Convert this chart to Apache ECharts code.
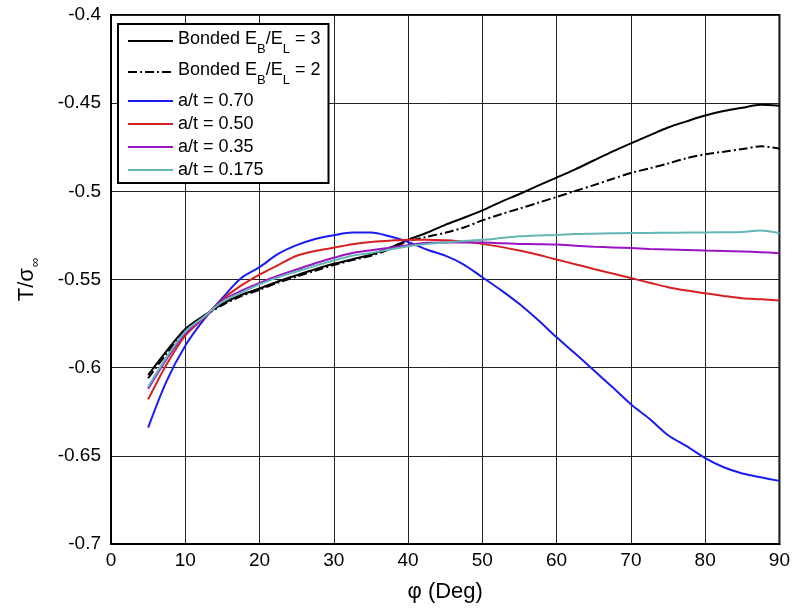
<!DOCTYPE html>
<html>
<head>
<meta charset="utf-8">
<script src="https://cdn.jsdelivr.net/npm/echarts@6/dist/echarts.min.js"></script>
<style>
  html, body { margin: 0; padding: 0; background: #fff; }
  #chart { width: 793px; height: 608px; }
</style>
</head>
<body>
<div id="chart"></div>
<script>
// phi in degrees
const phi = [5, 7.5, 10, 12.5, 15, 17.5, 20, 22.5, 25, 27.5, 30, 32.5, 35, 37.5, 40, 42.5, 45, 47.5,
  50, 52.5, 55, 57.5, 60, 62.5, 65, 67.5, 70, 72.5, 75, 77.5, 80, 82.5, 85, 87.5, 90];

const bonded3 = [-0.6042, -0.5905, -0.578, -0.5705, -0.5638, -0.5588, -0.5551, -0.5511, -0.5476, -0.5442,
  -0.5411, -0.5385, -0.536, -0.532, -0.5275, -0.5235, -0.519, -0.515, -0.5108, -0.506, -0.5015, -0.4968,
  -0.4922, -0.4875, -0.4825, -0.4775, -0.4728, -0.4683, -0.4638, -0.4603, -0.457, -0.4545, -0.4526, -0.4509, -0.4515];
const bonded2 = [-0.606, -0.592, -0.579, -0.571, -0.5645, -0.5595, -0.5558, -0.5518, -0.5484, -0.545,
  -0.5418, -0.539, -0.5365, -0.5328, -0.5283, -0.5258, -0.5235, -0.5205, -0.5165, -0.513, -0.5098, -0.5065,
  -0.5032, -0.4998, -0.4965, -0.493, -0.4896, -0.487, -0.4842, -0.4812, -0.479, -0.4775, -0.476, -0.4745, -0.4758];
const at070 = [-0.634, -0.6075, -0.5876, -0.5728, -0.5605, -0.5493, -0.543, -0.5355, -0.5305, -0.527,
  -0.5249, -0.5234, -0.5234, -0.5255, -0.5287, -0.533, -0.5365, -0.5415, -0.5487, -0.556, -0.5639, -0.573,
  -0.5828, -0.592, -0.6015, -0.611, -0.6207, -0.629, -0.6383, -0.6445, -0.6513, -0.6565, -0.66, -0.6622, -0.6642];
const at050 = [-0.618, -0.598, -0.5818, -0.5718, -0.5613, -0.5535, -0.5472, -0.5418, -0.5365, -0.5338,
  -0.532, -0.53, -0.5287, -0.528, -0.5274, -0.5274, -0.5278, -0.5285, -0.5298, -0.5315, -0.5336, -0.536,
  -0.5387, -0.5413, -0.544, -0.5466, -0.5492, -0.5518, -0.5544, -0.5563, -0.5578, -0.5593, -0.5606, -0.5612, -0.5619];
const at035 = [-0.612, -0.595, -0.5805, -0.5715, -0.5619, -0.5565, -0.5519, -0.5478, -0.5443, -0.5408,
  -0.5377, -0.535, -0.5334, -0.532, -0.5306, -0.5292, -0.529, -0.529, -0.529, -0.5294, -0.5298, -0.53,
  -0.5302, -0.5308, -0.5314, -0.5318, -0.5322, -0.5327, -0.533, -0.5333, -0.5336, -0.5338, -0.5341, -0.5345, -0.5351];
const at0175 = [-0.6108, -0.594, -0.5795, -0.5712, -0.5626, -0.5575, -0.5528, -0.5488, -0.5455, -0.5422,
  -0.5392, -0.5365, -0.535, -0.533, -0.5311, -0.5298, -0.529, -0.5282, -0.5275, -0.5265, -0.5255, -0.525,
  -0.5247, -0.5242, -0.524, -0.5238, -0.5237, -0.5236, -0.5235, -0.5234, -0.5233, -0.5232, -0.523, -0.5222, -0.5237];

const names = ['Bonded EB/EL = 3', 'Bonded EB/EL = 2', 'a/t = 0.70', 'a/t = 0.50', 'a/t = 0.35', 'a/t = 0.175'];
const colors = ['#000000', '#000000', '#1c1cf2', '#d42020', '#9a14c4', '#62b6b6'];
const values = [bonded3, bonded2, at070, at050, at035, at0175];

const font = 'Liberation Sans, Arial, sans-serif';

const chart = echarts.init(document.getElementById('chart'));

const series = values.map((v, i) => ({
  name: names[i],
  type: 'line',
  data: phi.map((p, j) => [p, v[j]]),
  symbol: 'none',
  smooth: 0.3,
  lineStyle: {
    color: colors[i],
    width: 2,
    type: i === 1 ? [9, 3, 2, 3] : 'solid'
  },
  itemStyle: { color: colors[i] }
}));

chart.setOption({
  animation: false,
  backgroundColor: '#fff',
  grid: {
    left: 111,
    right: 13,
    top: 15,
    bottom: 63,
    show: true,
    borderColor: '#000',
    borderWidth: 2
  },
  legend: {
    orient: 'vertical',
    left: 118,
    top: 24,
    padding: [6, 8, 4, 9],
    itemGap: 5,
    itemWidth: 45,
    itemHeight: 10,
    itemStyle: { opacity: 0 },
    backgroundColor: '#fff',
    borderColor: '#000',
    borderWidth: 2,
    borderRadius: 0,
    data: names,
    formatter: name => {
      if (name.startsWith('Bonded')) {
        const last = name.slice(-1);
        return '{a|Bonded E}{s|B}{a|/E}{s|L}{a| = ' + last + '}';
      }
      return name;
    },
    textStyle: {
      fontFamily: font,
      fontSize: 18,
      color: '#000',
      rich: {
        a: { fontFamily: font, fontSize: 18, color: '#000', lineHeight: 22, verticalAlign: 'top' },
        s: { fontFamily: font, fontSize: 13, color: '#000', lineHeight: 13, padding: [13, 0, 0, 0], verticalAlign: 'top' }
      }
    }
  },
  xAxis: {
    type: 'value',
    min: 0,
    max: 90,
    interval: 10,
    name: 'φ (Deg)',
    nameLocation: 'middle',
    nameGap: 37,
    nameTextStyle: { fontFamily: font, fontSize: 22, color: '#000' },
    axisLine: { lineStyle: { color: '#000', width: 2 } },
    axisTick: { show: false },
    axisLabel: { fontFamily: font, fontSize: 19, color: '#000', margin: 7 },
    splitLine: { show: true, lineStyle: { color: '#222', width: 1 } }
  },
  yAxis: {
    type: 'value',
    min: -0.7,
    max: -0.4,
    interval: 0.05,
    name: '{a|T/σ}{s|∞}',
    nameLocation: 'middle',
    nameGap: 70,
    nameRotate: 90,
    nameTextStyle: {
      fontFamily: font,
      fontSize: 22,
      color: '#000',
      rich: {
        a: { fontFamily: font, fontSize: 22, color: '#000', lineHeight: 25, verticalAlign: 'top' },
        s: { fontFamily: font, fontSize: 13, color: '#000', lineHeight: 13, padding: [13, 0, 0, 1], verticalAlign: 'top' }
      }
    },
    axisLine: { show: true, lineStyle: { color: '#000', width: 2 } },
    axisTick: { show: false },
    axisLabel: { fontFamily: font, fontSize: 19, color: '#000', margin: 10 },
    splitLine: { show: true, lineStyle: { color: '#222', width: 1 } }
  },
  series: series
});

window.addEventListener('resize', () => chart.resize());
</script>
</body>
</html>
